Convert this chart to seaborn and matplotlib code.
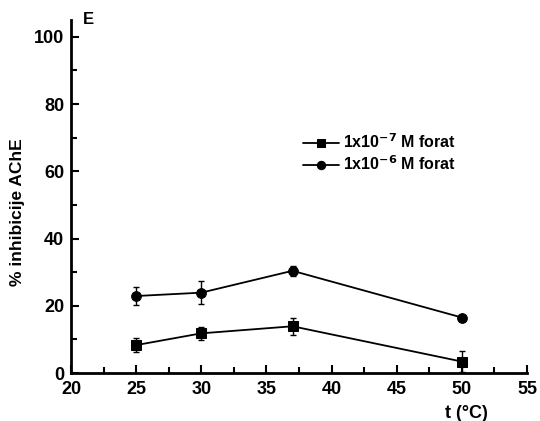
import numpy as np
import pandas as pd
import matplotlib.pyplot as plt
import seaborn as sns
from matplotlib.ticker import MultipleLocator

sns.set_theme(style='ticks')
plt.rcParams['font.family'] = ['Liberation Sans', 'DejaVu Sans']
plt.rcParams['font.weight'] = 'bold'
plt.rcParams['mathtext.default'] = 'bf'
for key in ['text.color', 'axes.labelcolor', 'xtick.color', 'ytick.color', 'axes.edgecolor']:
    plt.rcParams[key] = 'black'

# 温度与抑制率数据
temps = [25, 30, 37, 50]
inhib_low = [8.3, 11.8, 13.9, 3.4]      # 1x10^-7 M
err_low = [2.0, 2.0, 2.5, 3.0]
inhib_high = [22.9, 23.9, 30.4, 16.5]   # 1x10^-6 M
err_high = [2.6, 3.4, 1.4, 0.8]
labels = ['1x10$^{-7}$ M forat', '1x10$^{-6}$ M forat']

df = pd.DataFrame({
    't': temps * 2,
    'val': inhib_low + inhib_high,
    'err': err_low + err_high,
    'serija': [labels[0]] * 4 + [labels[1]] * 4,
})

fig = plt.figure(figsize=(5.4, 4.21), dpi=100)
ax = fig.add_axes([0.1315, 0.114, 0.8445, 0.8385])

sns.lineplot(data=df, x='t', y='val', style='serija', markers=['s', 'o'],
             dashes=False, color='black', markersize=7, linewidth=1.3,
             markeredgecolor='black', ax=ax)

for lab in labels:
    sub = df[df['serija'] == lab]
    ax.errorbar(sub['t'], sub['val'], yerr=sub['err'], fmt='none',
                ecolor='black', elinewidth=1, capsize=2.5, capthick=1)

ax.set_xlim(20, 55)
ax.set_ylim(0, 105)
ax.xaxis.set_major_locator(MultipleLocator(5))
ax.xaxis.set_minor_locator(MultipleLocator(2.5))
ax.yaxis.set_major_locator(MultipleLocator(20))
ax.yaxis.set_minor_locator(MultipleLocator(10))
ax.tick_params(which='major', direction='in', length=6, width=1.5, labelsize=13)
ax.tick_params(axis='x', which='major', pad=6)
ax.tick_params(axis='y', which='major', pad=5)
ax.tick_params(which='minor', direction='in', length=4, width=1.5)
for lbl in ax.get_xticklabels() + ax.get_yticklabels():
    lbl.set_fontweight('bold')

sns.despine(ax=ax)
for s in ['left', 'bottom']:
    ax.spines[s].set_linewidth(2)

ax.set_xlabel('')
ax.set_ylabel('% inhibicije AChE', fontsize=12.5, fontweight='bold')
ax.yaxis.set_label_coords(-0.101, 0.456)
ax.text(0.868, -0.09, 't (°C)', transform=ax.transAxes, fontsize=13,
        fontweight='bold', ha='center', va='top')
fig.text(83 / 540, 1 - 12 / 421, 'E', fontsize=12, fontweight='bold',
         ha='left', va='top')

leg = ax.legend(loc='upper left', bbox_to_anchor=(0.478, 0.722), frameon=False,
                handlelength=2.2, handletextpad=0.3, labelspacing=0.2,
                prop={'weight': 'bold', 'size': 11.5})
for h in leg.legend_handles:
    h.set_markersize(6)

fig.savefig('out.png', dpi=100)
